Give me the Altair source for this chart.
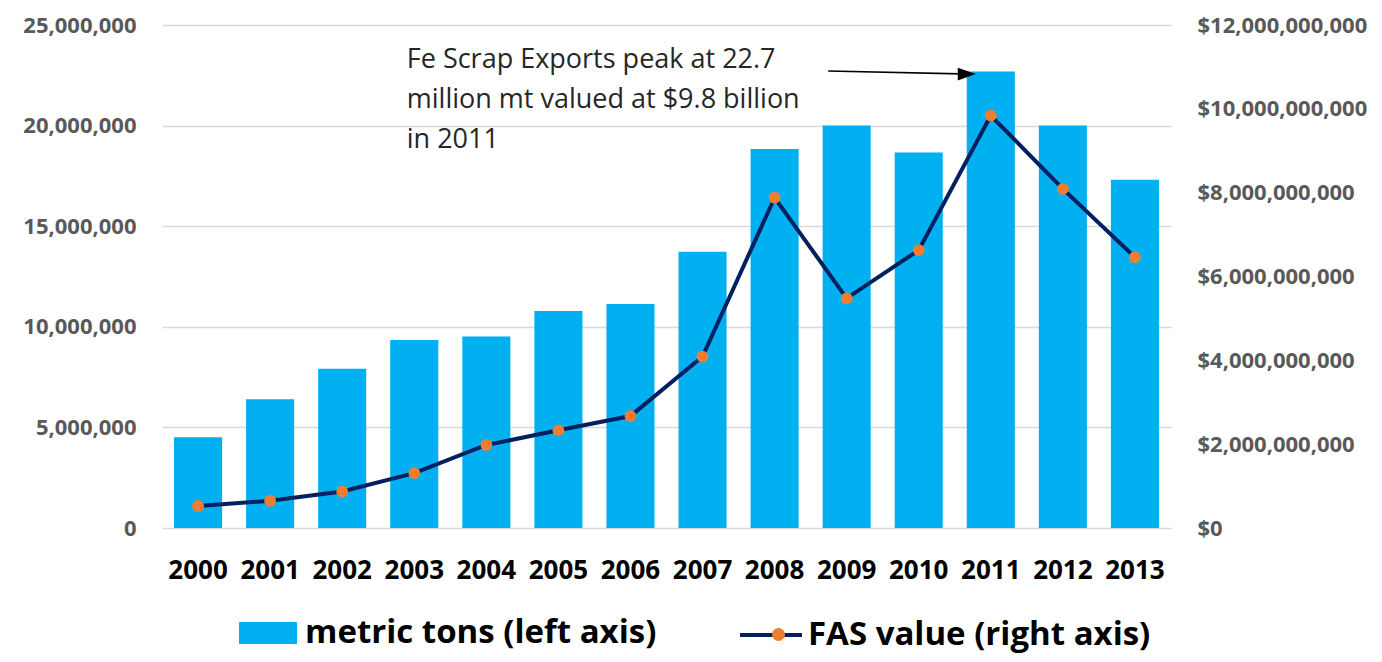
import altair as alt
import pandas as pd

# ---- data ----
years = ["2000", "2001", "2002", "2003", "2004", "2005", "2006",
         "2007", "2008", "2009", "2010", "2011", "2012", "2013"]
metric_tons = [4.51e6, 6.40e6, 7.91e6, 9.34e6, 9.52e6, 10.78e6, 11.13e6,
               13.73e6, 18.84e6, 20.00e6, 18.66e6, 22.69e6, 20.00e6, 17.31e6]
fas_value = [0.525e9, 0.65e9, 0.87e9, 1.31e9, 1.98e9, 2.33e9, 2.67e9,
             4.09e9, 7.88e9, 5.48e9, 6.63e9, 9.84e9, 8.09e9, 6.46e9]

bar_series = "metric tons (left axis)"
line_series = "FAS value (right axis)"

left_ticks = [0, 5e6, 10e6, 15e6, 20e6, 25e6]
right_ticks = [0, 2e9, 4e9, 6e9, 8e9, 10e9, 12e9]

ann_lines = ["Fe Scrap Exports peak at 22.7",
             "million mt valued at $9.8 billion",
             "in 2011"]
ann_year = ["2003", "2003", "2003"]
ann_y = [23.26e6, 21.27e6, 19.28e6]

arrow_years = ["2009", "2011"]
arrow_y = [22.71e6, 22.56e6]
arrowhead_year = ["2011"]
arrowhead_y = [22.56e6]

# ---- styles ----
BAR = "#00B0F0"
NAVY = "#002060"
ORANGE = "#ED7D31"
FONT = "Open Sans"
LEG_FS = 33

df = pd.DataFrame({"year": years, "tons": metric_tons, "value": fas_value,
                   "s_bar": bar_series, "s_line": line_series, "dot": "dot"})
ann_df = pd.DataFrame({"year": ann_year, "y": ann_y, "text": ann_lines})
arrow_df = pd.DataFrame({"year": arrow_years, "y": arrow_y})
head_df = pd.DataFrame({"year": arrowhead_year, "y": arrowhead_y})

x_scale = alt.Scale(domain=years, paddingInner=0.333, paddingOuter=0.167)
x_axis = alt.Axis(title=None, labelAngle=0, labelFont=FONT, labelFontSize=26,
                  labelFontWeight="bold", labelColor="#000000", labelPadding=29,
                  domain=False, ticks=False, grid=False)
left_scale = alt.Scale(domain=[0, 25e6], nice=False, zero=True)
right_scale = alt.Scale(domain=[0, 12e9], nice=False, zero=True)

bars = alt.Chart(df).mark_bar(color=BAR).encode(
    x=alt.X("year:O", scale=x_scale, axis=x_axis),
    y=alt.Y("tons:Q", scale=left_scale,
            axis=alt.Axis(title=None, values=left_ticks, format=",.0f",
                          labelFont=FONT, labelFontSize=22, labelFontWeight="bold",
                          labelColor="#595959", labelPadding=26, domain=False,
                          ticks=False, grid=True, gridColor="#D9D9D9",
                          gridWidth=1.3)),
    fill=alt.Fill("s_bar:N", scale=alt.Scale(domain=[bar_series], range=[BAR]),
                  legend=alt.Legend(title=None, orient="none", legendX=77,
                                    legendY=579, padding=0,
                                    symbolType="M-1,-0.38H1V0.38H-1Z",
                                    symbolSize=3364, symbolStrokeWidth=0,
                                    labelOffset=8, labelFont=FONT,
                                    labelFontSize=LEG_FS, labelFontWeight="bold",
                                    labelColor="#000000", labelLimit=600)),
)

line = alt.Chart(df).mark_line(strokeWidth=4).encode(
    x=alt.X("year:O", scale=x_scale, axis=x_axis),
    y=alt.Y("value:Q", scale=right_scale,
            axis=alt.Axis(title=None, orient="right", values=right_ticks,
                          format="$,.0f", labelFont=FONT, labelFontSize=22,
                          labelFontWeight="bold", labelColor="#595959",
                          labelPadding=26, domain=False, ticks=False, grid=False)),
    stroke=alt.Stroke("s_line:N", scale=alt.Scale(domain=[line_series], range=[NAVY]),
                      legend=alt.Legend(title=None, orient="none", legendX=576,
                                        legendY=577, padding=0, symbolType="stroke",
                                        symbolSize=3844, symbolStrokeWidth=4,
                                        labelOffset=4, labelFont=FONT,
                                        labelFontSize=LEG_FS, labelFontWeight="bold",
                                        labelColor="#000000", labelLimit=600)),
)

points = alt.Chart(df).mark_point(filled=True, color=ORANGE, opacity=1,
                                  size=140).encode(
    x=alt.X("year:O", scale=x_scale, axis=x_axis),
    y=alt.Y("value:Q", scale=right_scale, axis=None),
    shape=alt.Shape("dot:N", scale=alt.Scale(domain=["dot"], range=["circle"]),
                    legend=alt.Legend(title=None, orient="none", legendX=600,
                                      legendY=593, padding=0, symbolSize=170,
                                      symbolFillColor=ORANGE, symbolStrokeWidth=0,
                                      symbolOpacity=1, labelExpr="''",
                                      labelFontSize=LEG_FS)),
)

ann = alt.Chart(ann_df).mark_text(align="left", baseline="middle", font=FONT,
                                  fontSize=27, color="#262626").encode(
    x=alt.X("year:O", scale=x_scale, axis=x_axis, bandPosition=0.344),
    y=alt.Y("y:Q", scale=left_scale, axis=None),
    text="text:N",
)

arrow = alt.Chart(arrow_df).mark_line(color="#000000", strokeWidth=1.6).encode(
    x=alt.X("year:O", scale=x_scale, axis=x_axis, bandPosition=0.115),
    y=alt.Y("y:Q", scale=left_scale, axis=None),
)

head = alt.Chart(head_df).mark_point(filled=True, color="#000000", opacity=1,
                                     size=324, shape="M1,0L-1,-0.7L-1,0.7Z").encode(
    x=alt.X("year:O", scale=x_scale, axis=x_axis, bandPosition=0.0),
    y=alt.Y("y:Q", scale=left_scale, axis=None),
)

chart = alt.layer(bars, line, points, ann, arrow, head).resolve_scale(
    y="independent"
).properties(
    width=1009, height=503,
    padding={"left": 154, "top": 17, "right": 203, "bottom": 126},
    autosize=alt.AutoSizeParams(type="none"),
    background="#FFFFFF",
).configure_view(stroke=None)

chart.save("out.html", embed_options={"renderer": "svg", "actions": False})
